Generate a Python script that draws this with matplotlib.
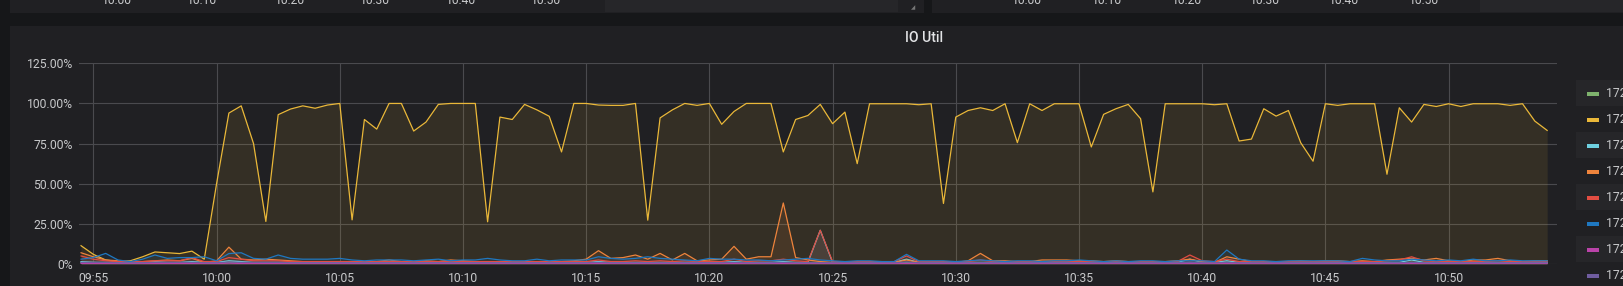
import matplotlib
matplotlib.use("Agg")
import matplotlib.pyplot as plt
import matplotlib.dates as mdates
from matplotlib.patches import Rectangle
import pandas as pd

plt.rcParams['font.family'] = ['Roboto', 'DejaVu Sans']

W, H = 1623, 286

# ---------------- data ----------------
times = pd.date_range('2019-01-01 09:54:30', periods=120, freq='30s')

series_names = ['172.16.0.11:9100 sda', '172.16.0.11:9100 sdb', '172.16.0.12:9100 sda',
                '172.16.0.12:9100 sdb', '172.16.0.13:9100 sda', '172.16.0.13:9100 sdb',
                '172.16.0.14:9100 sda', '172.16.0.14:9100 sdb']
series_colors = ['#7EB26D', '#EAB839', '#6ED0E0', '#EF843C', '#E24D42', '#1F78C1', '#BA43A9', '#705DA0']

green = [1, 1, 0.5, 0.5, 0.5, 1, 1, 0.5, 0.5, 1,
         0.5, 0.5, 1, 1, 0.5, 0.5, 0.5, 0.5, 0.5, 0.5,
         0.5, 0.5, 0.5, 0.5, 0.5, 0.5, 0.5, 0.5, 0.5, 0.5,
         0.5, 0.5, 0.5, 0.5, 0.5, 0.5, 0.5, 0.5, 0.5, 0.5,
         0.5, 0.5, 1, 0.5, 0.5, 0.5, 0.5, 0.5, 0.5, 0.5,
         0.5, 0.5, 0.5, 1, 0.5, 0.5, 0.5, 1, 0.5, 0.5,
         0.5, 0.5, 0.5, 0.5, 0.5, 0.5, 0.5, 1, 0.5, 0.5,
         0.5, 0.5, 0.5, 0.5, 0.5, 0.5, 0.5, 0.5, 0.5, 0.5,
         0.5, 0.5, 0.5, 0.5, 0.5, 0.5, 0.5, 0.5, 0.5, 0.5,
         1, 0.5, 0.5, 1, 0.5, 0.5, 0.5, 0.5, 0.5, 0.5,
         0.5, 0.5, 0.5, 0.5, 0.5, 0.5, 0.5, 0.5, 1, 0.5,
         0.5, 0.5, 0.5, 0.5, 0.5, 0.5, 0.5, 0.5, 0.5, 0.5]

yellow = [11.4, 6, 2.5, 1.5, 2, 4.5, 7.5, 7, 6.5, 8,
          3, 50, 94, 98.5, 75, 26.5, 93, 96.5, 98.5, 97,
          99, 100, 27.5, 90, 84, 100, 100, 82.8, 88.4, 99.4,
          100, 100, 100, 26.3, 91.5, 90, 99.4, 96, 92, 69.8,
          100, 100, 99, 98.8, 98.8, 100, 27.3, 91, 96, 100,
          98.8, 100, 87, 95, 100, 100, 100, 69.8, 90, 92.5,
          99.4, 87.4, 94.6, 62.5, 99.8, 99.8, 99.8, 99.8, 99.2, 99.8,
          37.7, 91.5, 95.6, 97.3, 95.6, 99.8, 75.6, 99.8, 95.6, 99.8,
          99.8, 99.8, 72.9, 93.2, 96.7, 99.4, 90.5, 44.9, 99.8, 99.8,
          99.8, 99.8, 99.2, 99.8, 76.6, 77.8, 96.7, 92.1, 95.6, 75.5,
          64, 99.8, 98.8, 99.8, 99.8, 99.8, 55.9, 97.3, 88.4, 99.4,
          98.1, 99.8, 98.1, 99.8, 99.8, 99.8, 98.8, 99.8, 89, 83.2]

light_blue = [1.5, 1, 1, 1, 1, 1, 1.5, 1, 1, 1.5,
              1, 1, 2, 1.5, 1, 1, 1, 1, 1, 1,
              1, 1, 1, 1, 1, 1, 1, 1, 1, 1,
              1, 1, 1, 1, 1, 1, 1, 1, 1, 1,
              1, 1, 1.5, 1, 1, 1, 1, 1, 1, 1,
              1, 1, 1, 1.5, 1, 1, 1, 1.5, 1, 1,
              21, 1, 1, 1, 1, 1, 1, 3, 1, 1,
              1, 1, 1, 1, 1, 1, 1, 1, 1, 1,
              1, 1, 1, 1, 1, 1, 1, 1, 1, 1,
              3, 1, 1, 2, 1, 1, 1, 1, 1, 1,
              1, 1, 1, 1, 1, 1, 1, 1, 2.5, 1,
              1, 1, 1, 1, 1, 1, 1, 1, 1, 1]

orange = [7, 4.5, 2.5, 2, 1.5, 1.5, 2, 2.5, 2, 3.5,
          1, 2, 10.5, 3, 2.5, 3, 2.5, 2, 1.5, 1.5,
          1.5, 1.5, 1.5, 1.5, 1.5, 2.5, 1.5, 1.5, 2, 1.5,
          2.5, 2, 1.5, 1.5, 1.5, 1.5, 1.5, 1.5, 1.5, 1.5,
          2, 3, 8.3, 3.5, 4, 5.6, 3, 6.6, 2.5, 6.6,
          2, 2.5, 3, 11, 3, 4.5, 4.5, 38, 4, 2.5,
          1.5, 1, 1, 1.5, 1.5, 1.5, 1, 2.5, 1, 1.5,
          1.5, 1, 2, 6.6, 2, 2, 1.5, 1.5, 2.5, 2.5,
          2.5, 2, 2, 1.5, 2, 1.5, 1.5, 1.5, 1.5, 2,
          3, 1.5, 1, 4.5, 3, 1.5, 1, 1.5, 1.5, 2,
          1.5, 2, 2, 1.5, 2, 1.5, 2.5, 3, 3.5, 2.5,
          3.5, 2, 1.5, 2.5, 2.5, 3.5, 2, 1.5, 2, 2]

red = [5, 3, 2, 1.5, 1.5, 1.5, 2, 2, 2, 4,
       1.5, 1.5, 4, 3, 2, 2, 2, 1.5, 1.5, 1.5,
       1.5, 1.5, 1.5, 1.5, 1.5, 1.5, 1.5, 1.5, 1.5, 1.5,
       1.5, 1.5, 1.5, 1.5, 1.5, 1.5, 1.5, 1.5, 1.5, 1.5,
       1.5, 1.5, 2.5, 1.5, 1.5, 2, 1.5, 2, 1.5, 2,
       1.5, 1.5, 1.5, 3, 1.5, 2, 2, 3, 2, 1.5,
       21, 1.5, 1.5, 1.5, 1.5, 1.5, 1.5, 5, 1.5, 1.5,
       1.5, 1.5, 1.5, 2.5, 1.5, 1.5, 1.5, 1.5, 1.5, 1.5,
       1.5, 1.5, 1.5, 1.5, 1.5, 1.5, 1.5, 1.5, 1.5, 1.5,
       5.6, 2, 1.5, 3, 1.5, 1.5, 1.5, 1.5, 1.5, 1.5,
       1.5, 1.5, 1.5, 1.5, 1.5, 1.5, 2, 2.5, 4.5, 2,
       1.5, 1.5, 1.5, 1.5, 1.5, 2, 1.5, 1.5, 1.5, 1.5]

blue = [3, 4, 6.6, 2.5, 1.5, 3, 5.6, 3.5, 4, 4,
        4.5, 2, 6.5, 7, 3.5, 3, 5.6, 3.5, 3, 3,
        3, 3.5, 2.5, 2, 2.5, 2.5, 2.5, 2, 2.5, 3,
        2, 2.5, 2.5, 3.5, 2.5, 2, 2, 3, 2, 2.5,
        2.5, 2.5, 4.5, 3.5, 3, 3.5, 4.5, 3.5, 3, 2.5,
        2, 3.5, 3, 3, 2.5, 2.5, 2, 2.5, 3, 3.5,
        2.5, 2, 1.5, 2, 2, 1.5, 1.5, 6, 2, 2,
        2, 1.5, 2, 2.5, 2, 1.5, 2, 2, 1.5, 2,
        2, 2.5, 2, 1.5, 2, 1.5, 2, 2, 1.5, 2,
        2, 2, 1.5, 8.7, 3, 2, 2, 1.5, 2, 2,
        2, 2, 2, 1.5, 3.5, 2.5, 2, 2, 3, 2.5,
        2, 2.5, 2, 3, 2, 2, 2.5, 2, 2, 2]

pink = [0.3, 0.3, 0.3, 0.3, 0.3, 0.3, 0.3, 0.3, 0.3, 0.3,
        0.3, 0.3, 0.6, 0.3, 0.3, 0.3, 0.3, 0.3, 0.3, 0.3,
        0.3, 0.3, 0.3, 0.3, 0.3, 0.3, 0.3, 0.3, 0.3, 0.3,
        0.3, 0.3, 0.3, 0.3, 0.3, 0.3, 0.3, 0.3, 0.3, 0.3,
        0.3, 0.3, 0.3, 0.3, 0.3, 0.3, 0.3, 0.3, 0.3, 0.3,
        0.3, 0.3, 0.3, 0.3, 0.3, 0.3, 0.3, 0.3, 0.3, 0.3,
        0.3, 0.3, 0.3, 0.3, 0.3, 0.3, 0.3, 0.3, 0.3, 0.3,
        0.3, 0.3, 0.3, 0.3, 0.3, 0.3, 0.3, 0.3, 0.3, 0.3,
        0.3, 0.3, 0.3, 0.3, 0.3, 0.3, 0.3, 0.3, 0.3, 0.3,
        0.3, 0.3, 0.3, 0.3, 0.3, 0.3, 0.3, 0.3, 0.3, 0.3,
        0.3, 0.3, 0.3, 0.3, 0.3, 0.3, 0.3, 0.3, 0.3, 0.3,
        0.3, 0.3, 0.3, 0.3, 0.3, 0.3, 0.3, 0.3, 0.3, 0.3]

purple = [1, 1, 1, 0.8, 0.8, 0.8, 1, 1, 1, 1,
          0.8, 0.8, 1.2, 1, 1, 1, 1, 0.8, 0.8, 0.8,
          0.8, 0.8, 0.8, 0.8, 0.8, 0.8, 0.8, 0.8, 0.8, 0.8,
          0.8, 0.8, 0.8, 0.8, 0.8, 0.8, 0.8, 0.8, 0.8, 0.8,
          0.8, 0.8, 1, 0.8, 0.8, 0.8, 0.8, 0.8, 0.8, 0.8,
          0.8, 0.8, 0.8, 1, 0.8, 0.8, 0.8, 1, 0.8, 0.8,
          0.8, 0.8, 0.8, 0.8, 0.8, 0.8, 0.8, 1.2, 0.8, 0.8,
          0.8, 0.8, 0.8, 0.8, 0.8, 0.8, 0.8, 0.8, 0.8, 0.8,
          0.8, 0.8, 0.8, 0.8, 0.8, 0.8, 0.8, 0.8, 0.8, 0.8,
          1, 0.8, 0.8, 1, 0.8, 0.8, 0.8, 0.8, 0.8, 0.8,
          0.8, 0.8, 0.8, 0.8, 0.8, 0.8, 0.8, 0.8, 1, 0.8,
          0.8, 0.8, 0.8, 0.8, 0.8, 0.8, 0.8, 0.8, 0.8, 0.8]

series_values = [green, yellow, light_blue, orange, red, blue, pink, purple]

y_ticks = [0, 25, 50, 75, 100, 125]
y_tick_labels = ['0%', '25.00%', '50.00%', '75.00%', '100.00%', '125.00%']
upper_tick_labels = ['10:00', '10:10', '10:20', '10:30', '10:40', '10:50']

# ---------------- style ----------------
PAGE = '#161719'
PANEL = '#202023'
PANEL_LIGHT = '#262629'
TEXT = '#c8c9cb'
GRID = '#4a4a4e'

fig = plt.figure(figsize=(W / 100, H / 100), dpi=100)
fig.patch.set_facecolor(PAGE)


def rect(x0, y0, x1, y1, color, z=0):
    """Rectangle given in pixel coordinates from top-left."""
    r = Rectangle((x0 / W, 1 - y1 / H), (x1 - x0) / W, (y1 - y0) / H,
                  transform=fig.transFigure, facecolor=color, edgecolor='none', zorder=z)
    fig.add_artist(r)


# upper panels (cut off at the top edge, as in the reference)
rect(10, 0, 924, 13, PANEL)
rect(605, 0, 898, 12, PANEL_LIGHT)
rect(932, 0, 1623, 13, PANEL)
rect(1480, 0, 1623, 12, PANEL_LIGHT)
for xl, lab in zip([117, 202, 290, 375, 461, 546], upper_tick_labels):
    fig.text(xl / W, 1 - 0.5 / H, lab, ha='center', va='center', fontsize=8.7, color=TEXT)
for xl, lab in zip([1027, 1107, 1187, 1265, 1344, 1424], upper_tick_labels):
    fig.text(xl / W, 1 - 0.5 / H, lab, ha='center', va='center', fontsize=8.7, color=TEXT)
fig.text(913 / W, 1 - 8 / H, '◢', ha='center', va='center', fontsize=4, color='#777777',
         family=['DejaVu Sans'])

# main panel
rect(10, 26, 1623, 286, PANEL)
fig.text(924 / W, 1 - 38.5 / H, 'IO Util', ha='center', va='center', fontsize=10,
         color='#e3e4e6', fontweight='medium')

# legend rows
row_h = 26
leg_top = 80
for k, (name, col) in enumerate(zip(series_names, series_colors)):
    y0 = leg_top + k * row_h
    if k % 2 == 0:
        rect(1576, y0, 1623, y0 + row_h, PANEL_LIGHT)
    yc = y0 + row_h / 2 + 0.5
    rect(1587, yc - 2, 1599, yc + 2, col, z=2)
    fig.text(1606 / W, 1 - yc / H, name, ha='left', va='center', fontsize=8.7, color=TEXT)

# ---------------- graph ----------------
ax_left, ax_right, ax_top, ax_bot = 79, 1557, 63.3, 264
ax = fig.add_axes([ax_left / W, 1 - ax_bot / H, (ax_right - ax_left) / W, (ax_bot - ax_top) / H])
ax.set_facecolor('none')

for vals, col in zip(series_values, series_colors):
    ax.fill_between(times, 0, vals, color=col, alpha=0.1, linewidth=0, zorder=2)
    ax.plot(times, vals, color=col, linewidth=0.9, zorder=3)

ax.set_ylim(0, 125)
ax.set_yticks(y_ticks)
ax.set_yticklabels(y_tick_labels)
ax.set_xlim(pd.Timestamp('2019-01-01 09:54:25'), pd.Timestamp('2019-01-01 10:54:24'))
ax.xaxis.set_major_locator(mdates.MinuteLocator(byminute=range(0, 60, 5)))
ax.xaxis.set_major_formatter(mdates.DateFormatter('%H:%M'))

ax.grid(True, color=GRID, linewidth=0.8, zorder=0)
ax.set_axisbelow(True)
for s in ax.spines.values():
    s.set_visible(False)
ax.tick_params(axis='both', length=0, colors=TEXT, labelsize=8.7)
ax.tick_params(axis='y', pad=4.5)
ax.tick_params(axis='x', pad=6)

fig.savefig('out.png', dpi=100, facecolor=fig.get_facecolor())
